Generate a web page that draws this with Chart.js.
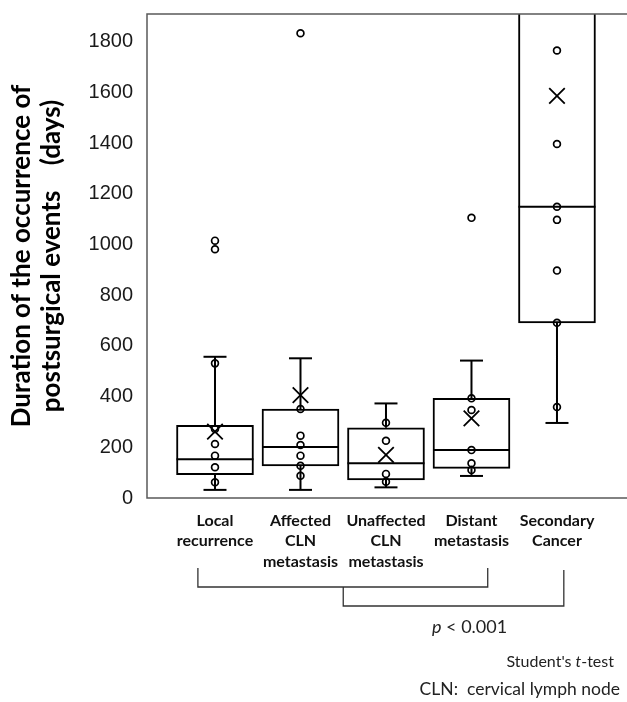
<!DOCTYPE html>
<html>
<head>
<meta charset="utf-8">
<script src="https://cdn.jsdelivr.net/npm/chart.js@4"></script>
<style>
  html, body { margin: 0; padding: 0; background: #fff; }
  #wrap { position: relative; width: 627px; height: 702px; }
  canvas { display: block; }
  .note { position: absolute; font-family: Lato, sans-serif; color: #222; white-space: pre; }
</style>
</head>
<body>
<div id="wrap">
  <canvas id="chart" width="627" height="702"></canvas>
  <div class="note" style="left:432px; top:615px; font-size:18px;"><i>p</i> &lt; 0.001</div>
  <div class="note" style="right:13px; top:651px; font-size:16px;">Student's <i>t</i>-test</div>
  <div class="note" style="right:7px; top:678px; font-size:17.5px;">CLN:  cervical lymph node</div>
</div>
<script>
// ── Data ──
const categories = [
  ['Local', 'recurrence'],
  ['Affected', 'CLN', 'metastasis'],
  ['Unaffected', 'CLN', 'metastasis'],
  ['Distant', 'metastasis'],
  ['Secondary', 'Cancer'],
];
const q1 = [92, 127, 71, 117, 691];
const medians = [153, 201, 137, 189, 1149];
const q3 = [287, 351, 277, 393, 1960];       // secondary box runs off the top
const whiskerLow = [32, 32, 42, 87, 296];
const whiskerHigh = [557, 551, 373, 542, null];
const means = [262, 406, 170, 314, 1586];
const points = [
  [1015, 981, 531, 272, 213, 167, 121, 62],
  [1833, 351, 246, 209, 167, 127, 88],
  [297, 226, 95, 64],
  [1105, 393, 347, 189, 137, 110],
  [1765, 1396, 1149, 1097, 897, 691, 359],
];
const yTicks = [0, 200, 400, 600, 800, 1000, 1200, 1400, 1600, 1800];

// bracket ends below the axis, in category units
const brackets = [
  { from: 0.80, to: 4.19 },
  { from: 2.50, to: 5.08 },
];

// ── Build datasets ──
const xs = categories.map((_, i) => i + 1);

const boxData = xs.map((x, i) => ({ x, y: [q1[i], q3[i]] }));
const medianData = xs.map((x, i) => ({ x, y: medians[i] }));
const meanData = xs.map((x, i) => ({ x, y: means[i] }));
const whiskerData = xs.flatMap((x, i) => [
  { x, y: whiskerLow[i] }, { x, y: q1[i] }, { x, y: null },
  { x, y: q3[i] }, { x, y: whiskerHigh[i] }, { x, y: null },
]);
const capData = xs.flatMap((x, i) => [whiskerLow[i], whiskerHigh[i]]
  .filter(v => v !== null).map(v => ({ x, y: v })));
const pointData = points.flatMap((arr, i) => arr.map(v => ({ x: i + 1, y: v })));

// no extra room for edge labels, the frame sits at fixed place
function noPad(s) {
  s.paddingTop = 0; s.paddingBottom = 0; s.paddingLeft = 0; s.paddingRight = 0;
}

// ── Frame + brackets ──
const framePlugin = {
  id: 'frame',
  afterDatasetsDraw(chart) {
    const { ctx, chartArea: a } = chart;
    ctx.save();
    ctx.strokeStyle = '#5a5a5a';
    ctx.lineWidth = 1.5;
    ctx.beginPath();
    ctx.moveTo(a.right, a.top);
    ctx.lineTo(a.left, a.top);
    ctx.lineTo(a.left, a.bottom);
    ctx.lineTo(a.right, a.bottom);
    ctx.stroke();
    ctx.restore();
  },
  afterDraw(chart) {
    const { ctx } = chart;
    const x = chart.scales.x;
    const b1 = brackets[0], b2 = brackets[1];
    const l1 = x.getPixelForValue(b1.from), r1 = x.getPixelForValue(b1.to);
    const l2 = x.getPixelForValue(b2.from), r2 = x.getPixelForValue(b2.to);
    ctx.save();
    ctx.strokeStyle = '#333';
    ctx.lineWidth = 1.3;
    ctx.beginPath();
    ctx.moveTo(l1, 568); ctx.lineTo(l1, 587); ctx.lineTo(r1, 587); ctx.lineTo(r1, 568);
    ctx.moveTo(l2, 587); ctx.lineTo(l2, 606); ctx.lineTo(r2, 606); ctx.lineTo(r2, 570);
    ctx.stroke();
    ctx.restore();
  },
};

new Chart(document.getElementById('chart'), {
  type: 'bar',
  data: {
    datasets: [{
      type: 'scatter',
      data: meanData,
      pointStyle: 'crossRot',
      pointRadius: 11,
      pointHoverRadius: 11,
      borderColor: '#000',
      borderWidth: 1.8,
    }, {
      type: 'scatter',
      data: pointData,
      pointStyle: 'circle',
      pointRadius: 3.4,
      pointHoverRadius: 3.4,
      backgroundColor: 'rgba(0,0,0,0)',
      borderColor: '#000',
      borderWidth: 1.7,
    }, {
      type: 'scatter',
      data: medianData,
      pointStyle: 'line',
      pointRadius: 38.5,
      pointHoverRadius: 38.5,
      borderColor: '#000',
      borderWidth: 2,
    }, {
      type: 'scatter',
      data: capData,
      pointStyle: 'line',
      pointRadius: 11.5,
      pointHoverRadius: 11.5,
      borderColor: '#000',
      borderWidth: 2,
    }, {
      type: 'line',
      data: whiskerData,
      showLine: true,
      spanGaps: false,
      pointRadius: 0,
      borderColor: '#000',
      borderWidth: 2,
      fill: false,
    }, {
      type: 'bar',
      data: boxData,
      backgroundColor: '#fff',
      borderColor: '#000',
      borderWidth: 2,
      borderSkipped: false,
      barThickness: 77,
      clip: 0,
      order: 5,
    }],
  },
  options: {
    responsive: false,
    animation: false,
    layout: { autoPadding: false, padding: { top: 14, right: 0, bottom: 0, left: 0 } },
    plugins: {
      legend: { display: false },
      tooltip: { enabled: false },
    },
    scales: {
      x: {
        type: 'linear',
        offset: false,
        min: 0.2047,
        max: 5.819,
        grid: { display: false, drawTicks: false, offset: false },
        border: { display: false },
        afterBuildTicks: (s) => { s.ticks = xs.map(v => ({ value: v })); },
        afterFit: (s) => { s.height = 204; noPad(s); },
        ticks: {
          autoSkip: false,
          maxRotation: 0,
          padding: 12,
          color: '#111',
          font: { family: 'Lato', size: 16, weight: 'bold', lineHeight: 1.3 },
          callback: (v) => categories[v - 1] || '',
        },
      },
      y: {
        min: 0,
        max: 1909,
        grid: { display: false, drawTicks: false },
        border: { display: false },
        afterBuildTicks: (s) => { s.ticks = yTicks.map(v => ({ value: v })); },
        afterFit: (s) => { s.width = 147; noPad(s); },
        ticks: {
          padding: 14,
          color: '#1a1a1a',
          font: { family: "'Liberation Sans', Arial", size: 20 },
          callback: (v) => String(v),
        },
        title: {
          display: true,
          text: ['Duration of the occurrence of', 'postsurgical events    (days)'],
          color: '#000',
          padding: { top: 7, bottom: 0 },
          font: { family: 'Lato', size: 26, weight: 'bold', lineHeight: 1.15 },
        },
      },
    },
  },
  plugins: [framePlugin],
});
</script>
</body>
</html>
